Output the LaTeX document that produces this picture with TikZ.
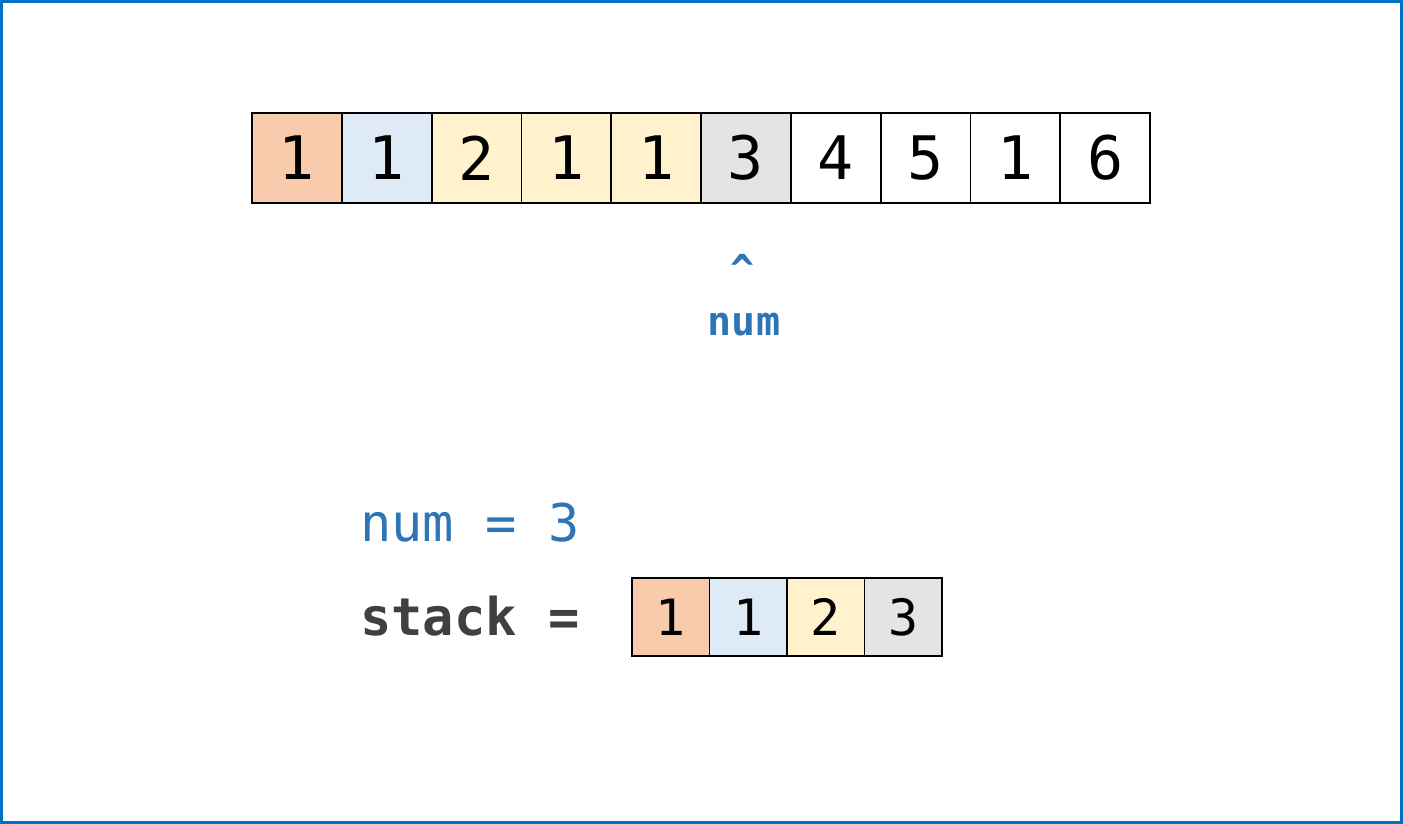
\documentclass[tikz,border=0pt]{standalone}
\usepackage{fontspec}
\setmainfont{DejaVu Sans Mono}
\setmonofont{DejaVu Sans Mono}
\definecolor{frameblue}{HTML}{0070C0}
\definecolor{txtblue}{HTML}{2E75B6}
\definecolor{txtgray}{HTML}{404040}
\definecolor{corange}{HTML}{F8CBAD}
\definecolor{cblue}{HTML}{DEEBF7}
\definecolor{cyellow}{HTML}{FFF2CC}
\definecolor{cgray}{HTML}{E4E4E4}
\tikzset{
  bigcell/.style={minimum width=89.8pt, minimum height=90pt, inner sep=0pt, outer sep=0pt, font=\fontsize{60}{60}\selectfont, text=black},
  smallcell/.style={minimum width=77.5pt, minimum height=78pt, inner sep=0pt, outer sep=0pt, font=\fontsize{50}{50}\selectfont, text=black},
  cellborder/.style={draw=black, line width=1.8pt},
  codetxt/.style={inner sep=0pt, font=\fontsize{52}{52}\selectfont},
}
\begin{document}
\begin{tikzpicture}[x=1pt,y=-1pt]
\useasboundingbox (0,0) rectangle (1403,824);
\draw[frameblue, line width=3pt] (1.5,1.5) rectangle (1401.5,822.5);
% top array
\foreach \i/\v/\c in {0/1/corange,1/1/cblue,2/2/cyellow,3/1/cyellow,4/1/cyellow,5/3/cgray,6/4/white,7/5/white,8/1/white,9/6/white}{
  \node[bigcell, fill=\c] (a\i) at (252+44.9+89.8*\i, 158) {\v};
}
\foreach \i in {0,...,9}{
  \draw[cellborder] (a\i.north west) rectangle (a\i.south east);
}
\node[inner sep=0pt, anchor=base, text=txtblue, font=\fontsize{40}{40}\selectfont\bfseries] (caret) at (743,283) {\^{}};
\node[inner sep=0pt, anchor=base, text=txtblue, font=\fontsize{40}{40}\selectfont\bfseries] (ptr) at (744,335) {num};
% bottom
\node[codetxt, anchor=base west, text=txtblue] (numeq) at (360,541) {num = 3};
\node[codetxt, anchor=base west, text=txtgray, font=\fontsize{52}{52}\selectfont\bfseries] (stk) at (360,635) {stack =};
\foreach \i/\v/\c in {0/1/corange,1/1/cblue,2/2/cyellow,3/3/cgray}{
  \node[smallcell, fill=\c] (s\i) at (632+38.75+77.5*\i, 617) {\v};
}
\foreach \i in {0,...,3}{
  \draw[cellborder] (s\i.north west) rectangle (s\i.south east);
}
\end{tikzpicture}
\end{document}
